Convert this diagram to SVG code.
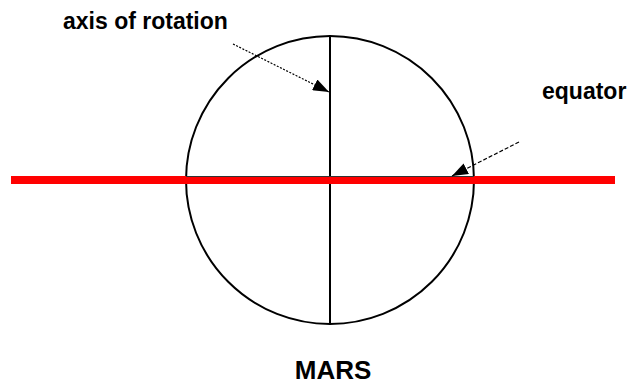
<svg xmlns="http://www.w3.org/2000/svg" width="632" height="387" viewBox="0 0 632 387">
<style>
.lbl{font-family:"Liberation Sans",Arial,sans-serif;font-weight:bold;fill:#000}
.ptr{stroke:#000;stroke-width:1.2;fill:none}
</style>
<defs>
<marker id="ah" markerWidth="16" markerHeight="12" refX="16" refY="6" orient="auto" markerUnits="userSpaceOnUse">
<path d="M0,0 L16,6 L0,12 Z" fill="#000"/>
</marker>
</defs>
<rect width="632" height="387" fill="#fff"/>
<g id="planet">
<circle cx="330" cy="180" r="144" fill="none" stroke="#000" stroke-width="2"/>
<line x1="330" y1="36" x2="330" y2="324" stroke="#000" stroke-width="2"/>
</g>
<g id="equator-line">
<rect x="11" y="176" width="604" height="8" fill="#f00"/>
<line x1="186" y1="176.5" x2="474" y2="176.5" stroke="#333" stroke-width="1"/>
</g>
<g id="connectors">
<line class="ptr" x1="233" y1="44" x2="329" y2="92" stroke-dasharray="2,1.5" marker-end="url(#ah)"/>
<line class="ptr" x1="519" y1="142" x2="452" y2="176" stroke-dasharray="4,2" marker-end="url(#ah)"/>
</g>
<g id="label-axis"><text class="lbl" x="63" y="29" font-size="23">axis of rotation</text></g>
<g id="label-equator"><text class="lbl" x="542" y="99" font-size="23">equator</text></g>
<g id="label-mars"><text class="lbl" x="333" y="379" font-size="26" text-anchor="middle">MARS</text></g>
</svg>
